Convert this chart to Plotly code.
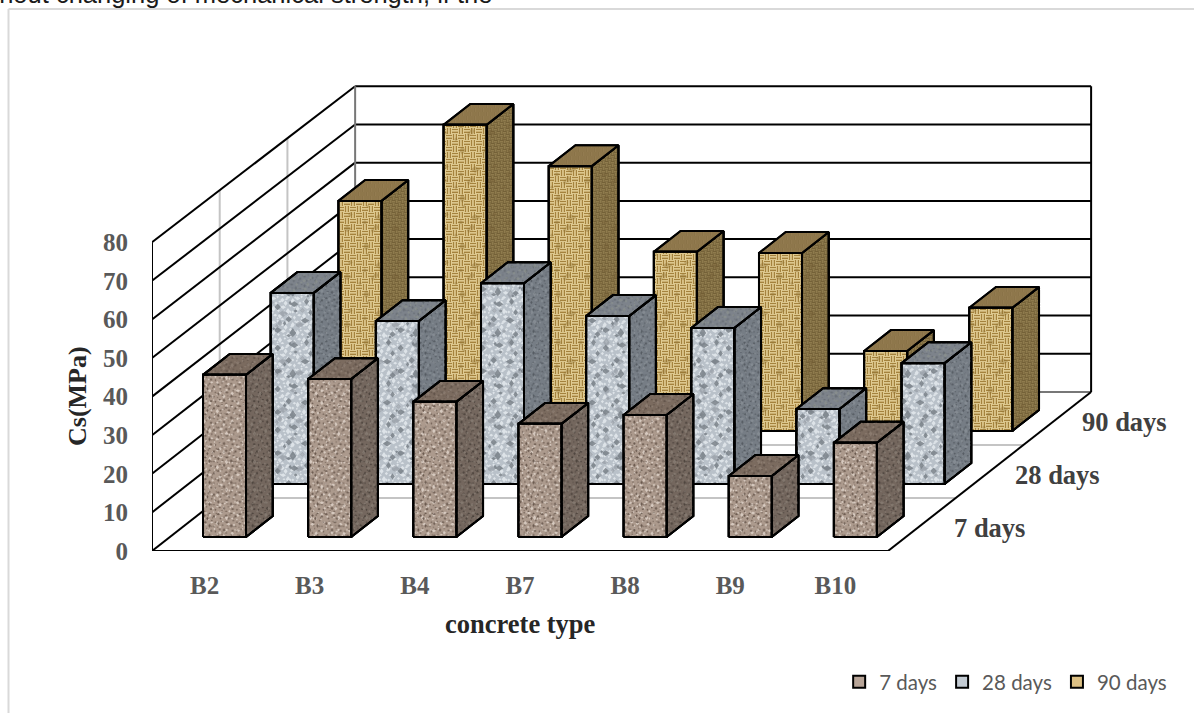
import plotly.graph_objects as go

categories = ["B2", "B3", "B4", "B7", "B8", "B9", "B10"]
series_names = ["7 days", "28 days", "90 days"]
strength_7 = [42.0, 40.9, 35.0, 29.3, 31.6, 15.8, 24.4]
strength_28 = [49.5, 42.2, 52.0, 43.5, 40.4, 19.4, 31.3]
strength_90 = [59.6, 79.3, 68.6, 46.4, 46.1, 20.7, 31.9]
series_values = [strength_7, strength_28, strength_90]
y_ticks = list(range(0, 90, 10))

# Oblique projection of the depth axis onto the page, in axis units per row.
SHIFT_X = 0.644
SHIFT_Y = 13.73
ROWS = 3
BAR_WIDTH = 0.409
BAR_OFFSET = 0.019
BAR_FRONT = 0.265
BAR_BACK = 0.66
# The back wall is drawn slightly shorter than the front edge of the side wall.
BACK_WALL_SCALE = 306 / 309

WALL = "#000000"
GUIDE = "#c4c4c4"
SERIF = "Liberation Serif"

# Speckle tile used for the stone and gravel surfaces: centre x, centre y, radius.
SPOTS = [
    (2, 3, 1.5), (7, 1, 1.0), (13, 5, 1.8), (20, 2, 1.2), (26, 6, 1.6),
    (5, 9, 1.3), (10, 7, 0.9), (17, 9, 1.6), (23, 12, 1.3), (28, 14, 1.0),
    (2, 16, 1.7), (8, 18, 1.2), (14, 14, 1.5), (20, 19, 1.8), (26, 20, 1.2),
    (4, 24, 1.1), (10, 25, 1.7), (16, 23, 1.0), (22, 26, 1.5), (28, 27, 1.2),
    (11, 13, 0.8), (18, 4, 0.9), (24, 8, 0.8), (6, 13, 0.9), (15, 19, 0.8),
    (23, 20, 0.9), (7, 28, 0.9), (13, 29, 1.0), (29, 2, 0.8), (1, 21, 0.9),
]


def speckle(scale=1.0, grow=1.0, keep=1):
    parts = []
    for n, (x, y, r) in enumerate(SPOTS[::keep]):
        x, y = x * scale, y * scale
        rx = r * grow * (1.5 if n % 3 == 0 else 1.0)
        ry = r * grow * (1.4 if n % 3 == 1 else 1.0)
        parts.append(f"M{x - rx:.1f},{y:.1f}L{x:.1f},{y - ry:.1f}L{x + rx:.1f},{y:.1f}L{x:.1f},{y + ry:.1f}Z")
    return "".join(parts)


def weave(cell=6, thread=1.5):
    # Basket weave: alternate blocks of horizontal and vertical threads.
    parts = []
    for row in range(2):
        for col in range(2):
            x, y = col * cell, row * cell
            a, b = cell * 0.12, cell * 0.6
            if (row + col) % 2 == 0:
                parts.append(f"M{x},{y + a}h{cell}v{thread}h-{cell}ZM{x},{y + b}h{cell}v{thread}h-{cell}Z")
            else:
                parts.append(f"M{x + a},{y}h{thread}v{cell}h-{thread}ZM{x + b},{y}h{thread}v{cell}h-{thread}Z")
    return "".join(parts)


def layer(path, size, colour, opacity=1.0):
    return dict(path=path, size=size, fgcolor=colour, fgopacity=opacity)


FINE_DARK = speckle(0.72, 0.75)
FINE_LIGHT = speckle(0.93, 1.0)
CLOUD_DARK = speckle(1.37, 1.9, 2)
CLOUD_LIGHT = speckle(0.8, 1.25)
BLOTCH = speckle(1.6, 2.2, 3)

# Surfaces per series: flat colour plus the layers laid over it.
styles = [
    dict(
        swatch="#b8a598",
        front=("#ac9a8d", [layer(FINE_LIGHT, 28, "#dbcfc5", 0.9), layer(FINE_DARK, 21.6, "#5e4e43", 0.85)]),
        top=("#7b6b5f", [layer(FINE_DARK, 21.6, "#54473e", 0.75), layer(FINE_LIGHT, 28, "#94867a", 0.6)]),
        side=("#74675e", [layer(FINE_DARK, 21.6, "#3f3731", 0.75), layer(FINE_LIGHT, 28, "#8e837a", 0.6)]),
    ),
    dict(
        swatch="#c3cbd3",
        front=("#b9c1c9", [layer(CLOUD_LIGHT, 24, "#e2e7ec", 0.9), layer(BLOTCH, 48, "#8f969e", 0.6),
                           layer(CLOUD_DARK, 41, "#767d85", 0.8)]),
        top=("#7d838b", [layer(FINE_DARK, 21.6, "#5d636a", 0.7), layer(FINE_LIGHT, 28, "#929890", 0.5)]),
        side=("#767d85", [layer(FINE_DARK, 21.6, "#4a5057", 0.75), layer(FINE_LIGHT, 28, "#8e949b", 0.6)]),
    ),
    dict(
        swatch="#dcc084",
        front=("#f0dea8", [layer(weave(6, 1.6), 12, "#9c7832", 0.9), layer(BLOTCH, 48, "#8a6a2a", 0.35)]),
        top=("#a48c5e", [layer(weave(4, 1.0), 8, "#6e5830", 0.8)]),
        side=("#9c8858", [layer(weave(3, 0.7), 6, "#54431f", 0.75), layer(BLOTCH, 48, "#6e5830", 0.3)]),
    ),
]


def project(x, depth, z):
    return x + depth * SHIFT_X, z + depth * SHIFT_Y


def polygon(corners):
    xs, ys = zip(*[project(*c) for c in corners])
    return list(xs) + [xs[0]], list(ys) + [ys[0]]


def face(fig, corners, surface):
    base, layers = surface
    xs, ys = polygon(corners)
    fig.add_trace(go.Scatter(
        x=xs, y=ys, mode="lines", fill="toself", fillcolor=base, showlegend=False, hoverinfo="skip",
        line=dict(color="#000000", width=2),
    ))
    for spec in layers:
        fig.add_trace(go.Scatter(
            x=xs, y=ys, mode="lines", fill="toself", showlegend=False, hoverinfo="skip",
            line=dict(color="#000000", width=2),
            fillcolor="rgba(0,0,0,0)",
            fillpattern=dict(bgcolor="rgba(0,0,0,0)", solidity=0.5, **spec),
        ))


def wall_height(tick, depth):
    return tick * (1 - (1 - BACK_WALL_SCALE) * depth / ROWS)


def rule(fig, a, b, color=WALL, width=2):
    xs, ys = zip(project(*a), project(*b))
    fig.add_trace(go.Scatter(x=xs, y=ys, mode="lines", showlegend=False, hoverinfo="skip",
                             line=dict(color=color, width=width)))


fig = go.Figure()
left, right = -0.5, len(categories) - 0.5
top_back = wall_height(80, ROWS)

# Walls and floor
for row in (1, 2):
    rule(fig, (left, row, 0), (left, row, wall_height(80, row)), GUIDE, 2)
    rule(fig, (left, row, 0), (right, row, 0), GUIDE, 2)
for tick in y_ticks:
    back = wall_height(tick, ROWS)
    rule(fig, (left, 0, tick), (left, ROWS, back))
    if tick > 0:
        rule(fig, (left, ROWS, back), (right, ROWS, back))
rule(fig, (left, ROWS, 0), (right, ROWS, 0), "#777777", 2)
rule(fig, (left, 0, 0), (left, 0, 80))
rule(fig, (left, ROWS, 0), (left, ROWS, top_back), "#777777", 2)
rule(fig, (right, ROWS, 0), (right, ROWS, top_back))
rule(fig, (left, 0, 0), (right, 0, 0))
rule(fig, (right, 0, 0), (right, ROWS, 0))

# Bars, painted from the back row forwards
for row in reversed(range(ROWS)):
    st = styles[row]
    for i, value in enumerate(series_values[row]):
        x0 = i + BAR_OFFSET - BAR_WIDTH / 2
        x1 = x0 + BAR_WIDTH
        d0 = row + BAR_FRONT
        d1 = row + BAR_BACK
        face(fig, [(x1, d0, 0), (x1, d1, 0), (x1, d1, value), (x1, d0, value)], st["side"])
        face(fig, [(x0, d0, value), (x1, d0, value), (x1, d1, value), (x0, d1, value)], st["top"])
        face(fig, [(x0, d0, 0), (x1, d0, 0), (x1, d0, value), (x0, d0, value)], st["front"])

# Legend entries
for name, st in zip(series_names, styles):
    fig.add_trace(go.Bar(
        x=[None], y=[None], name=name,
        marker=dict(color=st["swatch"], line=dict(color="#000000", width=2)),
    ))

# Depth axis labels
for row, name in enumerate(series_names):
    px, pz = project(right, row + 0.5, 0)
    fig.add_annotation(x=px, y=pz, text=name, showarrow=False, xanchor="center",
                       xshift=67.5, yshift=-3,
                       font=dict(family=SERIF, size=26.5, color="#404040", weight="bold"))

fig.add_annotation(x=520 / 1194, y=1 - 624 / 713, xref="paper", yref="paper", text="concrete type",
                   showarrow=False, xanchor="center", yanchor="middle",
                   font=dict(family=SERIF, size=26.5, color="#262626", weight="bold"))
fig.add_annotation(x=77 / 1194, y=1 - 396 / 713, xref="paper", yref="paper", text="Cs(MPa)", textangle=-90,
                   showarrow=False, xanchor="center", yanchor="middle",
                   font=dict(family=SERIF, size=26, color="#262626", weight="bold"))
fig.add_annotation(x=-35 / 1194, y=1 - 10 / 713, xref="paper", yref="paper", xanchor="left", yanchor="bottom",
                   text="without changing of mechanical strength, if the", showarrow=False,
                   font=dict(family="Liberation Sans", size=25.5, color="#1a1a1a"))

fig.update_layout(
    width=1194, height=713, margin=dict(l=0, r=0, t=0, b=0, autoexpand=False),
    paper_bgcolor="white", plot_bgcolor="white", barmode="overlay",
    showlegend=True,
    legend=dict(orientation="h", x=1165 / 1194 + 0.006, xanchor="right", y=1 - 682 / 713, yanchor="middle",
                font=dict(family="Lato", size=20.5, color="#595959"), traceorder="normal",
                bgcolor="rgba(0,0,0,0)"),
    xaxis=dict(domain=[152 / 1194, 1100 / 1194], range=[-0.5, -0.5 + 948 / 105.14], tickmode="array",
               tickvals=list(range(7)), ticktext=categories, automargin=False,
               showgrid=False, zeroline=False, showline=False,
               ticks="outside", ticklen=12, tickcolor="rgba(0,0,0,0)",
               tickfont=dict(family=SERIF, size=25, color="#595959", weight="bold")),
    yaxis=dict(domain=[162 / 713, 633 / 713], range=[0, 471 / 3.86], tickmode="array", tickvals=y_ticks,
               showgrid=False, zeroline=False, showline=False, automargin=False,
               ticks="outside", ticklen=18, tickcolor="rgba(0,0,0,0)",
               tickfont=dict(family=SERIF, size=25, color="#595959", weight="bold")),
    shapes=[
        dict(type="line", xref="paper", yref="paper", x0=8.5 / 1194, x1=8.5 / 1194, y0=0, y1=1 - 9 / 713,
             line=dict(color="#d9d9d9", width=2)),
        dict(type="line", xref="paper", yref="paper", x0=8.5 / 1194, x1=1, y0=1 - 9 / 713, y1=1 - 9 / 713,
             line=dict(color="#d9d9d9", width=2)),
    ],
)

fig.write_html("out.html")
